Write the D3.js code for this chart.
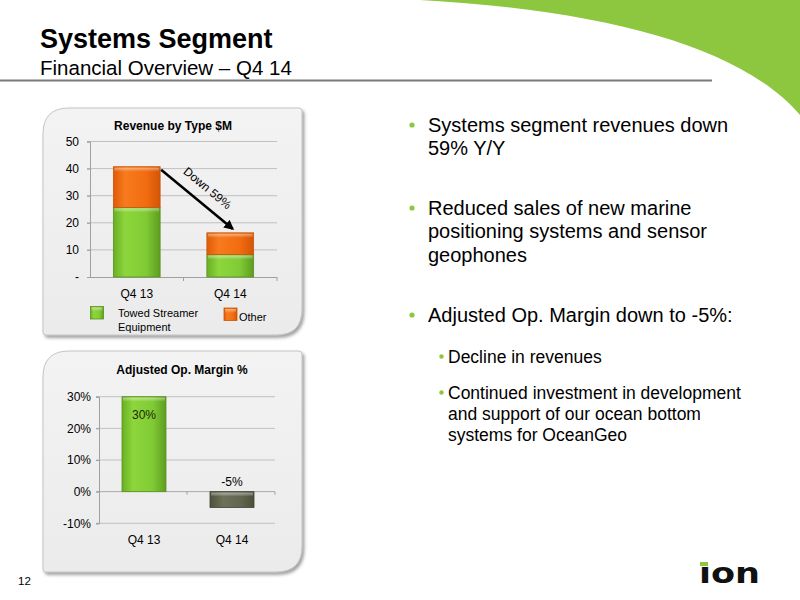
<!DOCTYPE html>
<html><head><meta charset="utf-8">
<script src="https://cdn.jsdelivr.net/npm/d3@7"></script>
<style>body{margin:0;background:#fff}svg{display:block;font-family:"Liberation Sans",Arial,sans-serif}</style>
</head><body>
<svg id="c" width="800" height="600"></svg>
<script>
// ---- data ----
const revCategories = ["Q4 13", "Q4 14"];
const towedStreamer = [25.7, 8.3];
const otherRevenue = [15.0, 8.0];
const revTicks = [0, 10, 20, 30, 40, 50];
const revTickLabels = ["-", "10", "20", "30", "40", "50"];
const revSeriesNames = ["Towed Streamer", "Other"];
const marginCategories = ["Q4 13", "Q4 14"];
const marginValues = [30, -5];
const marginTicks = [-10, 0, 10, 20, 30];
const marginLabels = ["30%", "-5%"];
const changeLabel = "Down 59%";
const bullets = [
  {lvl:0, lines:["Systems segment revenues down","59% Y/Y"]},
  {lvl:0, lines:["Reduced sales of new marine","positioning systems and sensor","geophones"]},
  {lvl:0, lines:["Adjusted Op. Margin down to -5%:"]},
  {lvl:1, lines:["Decline in revenues"]},
  {lvl:1, lines:["Continued investment in development","and support of our ocean bottom","systems for OceanGeo"]}
];

const svg = d3.select("#c");
const defs = svg.append("defs");
function grad(id, stops){
  const g = defs.append("linearGradient").attr("id",id).attr("x1","0").attr("x2","1").attr("y1","0").attr("y2","0");
  stops.forEach(s=>g.append("stop").attr("offset",s[0]).attr("stop-color",s[1]));
}
grad("gGreen",[[0,"#68b024"],[0.25,"#8dd63c"],[0.7,"#80cb35"],[1,"#5e9d20"]]);
grad("gOrange",[[0,"#e05a08"],[0.25,"#f77b1e"],[0.7,"#f26c10"],[1,"#d25506"]]);
grad("gGray",[[0,"#4e523c"],[0.3,"#6c7158"],[0.7,"#62664f"],[1,"#4c5039"]]);
const vh = defs.append("linearGradient").attr("id","gHi").attr("x1","0").attr("x2","0").attr("y1","0").attr("y2","1");
vh.append("stop").attr("offset",0).attr("stop-color","#fff").attr("stop-opacity",0.45);
vh.append("stop").attr("offset",1).attr("stop-color","#fff").attr("stop-opacity",0);
const pg = defs.append("linearGradient").attr("id","gPanel").attr("x1","0").attr("x2","0").attr("y1","0").attr("y2","1");
pg.append("stop").attr("offset",0).attr("stop-color","#f3f3f3");
pg.append("stop").attr("offset",1).attr("stop-color","#ebebeb");
const f = defs.append("filter").attr("id","sh").attr("x","-10%").attr("y","-10%").attr("width","130%").attr("height","130%");
f.append("feDropShadow").attr("dx",2).attr("dy",2.5).attr("stdDeviation",1.8).attr("flood-color","#555").attr("flood-opacity",0.55);

// ---- background swoosh & header ----
svg.append("path").attr("d","M420,0 C600,10 740,45 800,115 L800,0 Z").attr("fill","#8dc63f");
svg.append("text").attr("x",40).attr("y",48).attr("font-size",27).attr("font-weight","bold").attr("fill","#000").text("Systems Segment");
svg.append("text").attr("x",40).attr("y",75).attr("font-size",20.5).attr("fill","#000").text("Financial Overview \u2013 Q4 14");
svg.append("line").attr("x1",0).attr("x2",712).attr("y1",80.5).attr("y2",80.5).attr("stroke","#7a7a7a").attr("stroke-width",2);

// ---- panels ----
function panelPath(x0,y0,x1,y1,R,r){
  return `M${x0},${y0+R} Q${x0},${y0} ${x0+R},${y0} L${x1-r},${y0} Q${x1},${y0} ${x1},${y0+r} L${x1},${y1-R} Q${x1},${y1} ${x1-R},${y1} L${x0+r},${y1} Q${x0},${y1} ${x0},${y1-r} Z`;
}
svg.append("path").attr("d",panelPath(43,108,302,335,26,3)).attr("fill","url(#gPanel)").attr("stroke","#c4c4c4").attr("filter","url(#sh)");
svg.append("path").attr("d",panelPath(43,351,302,572,26,3)).attr("fill","url(#gPanel)").attr("stroke","#c4c4c4").attr("filter","url(#sh)");

// ---- Revenue chart ----
const g1 = svg.append("g");
const x1 = d3.scaleBand().domain(revCategories).range([90,277]).paddingInner(0.5).paddingOuter(0.25);
const y1 = d3.scaleLinear().domain([0,50]).range([277,141.5]);
g1.selectAll(".grid").data(revTicks.slice(1)).join("line")
  .attr("x1",87).attr("x2",277).attr("y1",d=>y1(d)).attr("y2",d=>y1(d)).attr("stroke","#c0c0c0");
const ya1 = g1.append("g").attr("transform","translate(90,0)")
  .call(d3.axisLeft(y1).tickValues(revTicks).tickFormat((d,i)=>revTickLabels[i]).tickSize(3).tickPadding(8));
ya1.select(".domain").attr("stroke","#a0a0a0");
ya1.selectAll(".tick line").attr("stroke","#a0a0a0");
ya1.selectAll("text").attr("font-size",12).attr("font-family","Liberation Sans, Arial").attr("fill","#000");
const xa1 = g1.append("g").attr("transform","translate(0,277)")
  .call(d3.axisBottom(x1).tickSize(0).tickPadding(12));
xa1.select(".domain").attr("stroke","#a0a0a0").attr("d","M90,0.5H277");
xa1.selectAll("text").attr("font-size",12).attr("font-family","Liberation Sans, Arial").attr("fill","#000");
g1.selectAll(".xt").data([90+x1.step(),277]).join("line").attr("x1",d=>d).attr("x2",d=>d).attr("y1",277).attr("y2",281).attr("stroke","#a0a0a0");

const stack = revCategories.map((c,i)=>({c, a:towedStreamer[i], b:otherRevenue[i]}));
function bar(g,x,yTop,w,h,fill,stroke){
  g.append("rect").attr("x",x).attr("y",yTop).attr("width",w).attr("height",h).attr("fill",fill).attr("stroke",stroke).attr("stroke-width",0.8);
  g.append("rect").attr("x",x+1).attr("y",yTop+1).attr("width",w-2).attr("height",Math.min(4,h-2)).attr("fill","url(#gHi)");
}
stack.forEach(d=>{
  bar(g1,x1(d.c),y1(d.a),x1.bandwidth(),y1(0)-y1(d.a),"url(#gGreen)","#5a8f1e");
  bar(g1,x1(d.c),y1(d.a+d.b),x1.bandwidth(),y1(d.a)-y1(d.a+d.b),"url(#gOrange)","#c9560a");
});
g1.append("text").attr("x",173).attr("y",130).attr("text-anchor","middle").attr("font-size",12).attr("font-weight","bold").text("Revenue by Type $M");

// arrow
defs.append("marker").attr("id","ah").attr("viewBox","0 0 10 10").attr("refX",8).attr("refY",5)
  .attr("markerWidth",4).attr("markerHeight",4).attr("orient","auto")
  .append("path").attr("d","M0,0 L10,5 L0,10 Z").attr("fill","#000");
const ax0 = x1(revCategories[0])+x1.bandwidth()+1, ay0 = y1(towedStreamer[0]+otherRevenue[0])+3;
const ax1 = x1(revCategories[1])+x1.bandwidth()*0.55, ay1 = y1(towedStreamer[1]+otherRevenue[1])-4;
g1.append("line").attr("x1",ax0).attr("y1",ay0).attr("x2",ax1).attr("y2",ay1).attr("stroke","#000").attr("stroke-width",2.5).attr("marker-end","url(#ah)");
const ang = Math.atan2(ay1-ay0, ax1-ax0)*180/Math.PI;
g1.append("text").attr("transform",`translate(${(ax0+ax1)/2+8},${(ay0+ay1)/2-8}) rotate(${ang})`)
  .attr("text-anchor","middle").attr("font-size",12).text(changeLabel);

// legend
function legSq(x,y,fill,stroke){
  svg.append("rect").attr("x",x).attr("y",y).attr("width",13).attr("height",12.5).attr("fill",fill).attr("stroke",stroke).attr("stroke-width",0.8);
  svg.append("rect").attr("x",x+1).attr("y",y+1).attr("width",11).attr("height",4).attr("fill","url(#gHi)");
}
legSq(90.5,306.5,"url(#gGreen)","#5a8f1e");
legSq(224,308,"url(#gOrange)","#c9560a");
svg.append("text").attr("x",118).attr("y",317).attr("font-size",11).text(revSeriesNames[0]);
svg.append("text").attr("x",118).attr("y",331).attr("font-size",11).text("Equipment");
svg.append("text").attr("x",239).attr("y",321).attr("font-size",11).text(revSeriesNames[1]);

// ---- Margin chart ----
const g2 = svg.append("g");
const x2 = d3.scaleBand().domain(marginCategories).range([100,276]).paddingInner(0.5).paddingOuter(0.25);
const y2 = d3.scaleLinear().domain([-10,30]).range([523.3,396.7]);
g2.selectAll(".grid").data(marginTicks).join("line")
  .attr("x1",96).attr("x2",275).attr("y1",d=>y2(d)).attr("y2",d=>y2(d)).attr("stroke",d=>d===0?"#a8a8a8":"#c0c0c0");
const ya2 = g2.append("g").attr("transform","translate(99,0)")
  .call(d3.axisLeft(y2).tickValues(marginTicks).tickFormat(d=>d+"%").tickSize(3).tickPadding(5));
ya2.select(".domain").attr("stroke","#a0a0a0");
ya2.selectAll(".tick line").attr("stroke","#a0a0a0");
ya2.selectAll("text").attr("font-size",12).attr("font-family","Liberation Sans, Arial").attr("fill","#000");
g2.selectAll(".xt").data([99+88,275]).join("line").attr("x1",d=>d).attr("x2",d=>d).attr("y1",y2(0)).attr("y2",y2(0)+3).attr("stroke","#a0a0a0");
g2.selectAll(".xl").data(marginCategories).join("text")
  .attr("x",d=>x2(d)+x2.bandwidth()/2).attr("y",544).attr("text-anchor","middle").attr("font-size",12).text(d=>d);
marginCategories.forEach((c,i)=>{
  const v = marginValues[i];
  bar(g2,x2(c),y2(Math.max(0,v)),x2.bandwidth(),Math.abs(y2(v)-y2(0)),v>=0?"url(#gGreen)":"url(#gGray)",v>=0?"#5a8f1e":"#3f4230");
  const ly = v>=0 ? y2(v)+22 : y2(0)-6;
  g2.append("text").attr("x",x2(c)+x2.bandwidth()/2).attr("y",ly).attr("text-anchor","middle").attr("font-size",12)
    .attr("fill",v>=0?"#1a2a05":"#000").text(marginLabels[i]);
});
g2.append("text").attr("x",182).attr("y",374).attr("text-anchor","middle").attr("font-size",12).attr("font-weight","bold").text("Adjusted Op. Margin %");

// ---- Right text ----
const baselines = [[132,155],[215,238,261.5],[322],[363],[399,420,441]];
bullets.forEach((b,i)=>{
  const fs = b.lvl===0?20:17.5;
  const tx = b.lvl===0?428:448;
  const bx = b.lvl===0?412:441.5;
  svg.append("circle").attr("cx",bx).attr("cy",baselines[i][0]-(b.lvl===0?7:6.5)).attr("r",b.lvl===0?2.6:2.2).attr("fill","#8dc63f");
  b.lines.forEach((l,j)=>{
    svg.append("text").attr("x",tx).attr("y",baselines[i][j]).attr("font-size",fs).attr("fill","#000").text(l);
  });
});

// ---- footer ----
svg.append("text").attr("x",18).attr("y",585).attr("font-size",11.5).text("12");
svg.append("text").attr("x",699).attr("y",583).attr("font-size",29).attr("font-weight","900").attr("font-family","DejaVu Sans")
  .attr("textLength",61).attr("lengthAdjust","spacingAndGlyphs").attr("fill","#111").text("\u0131on");
svg.append("rect").attr("x",700).attr("y",562).attr("width",8).attr("height",4).attr("fill","#8dc63f");
</script>
</body></html>
